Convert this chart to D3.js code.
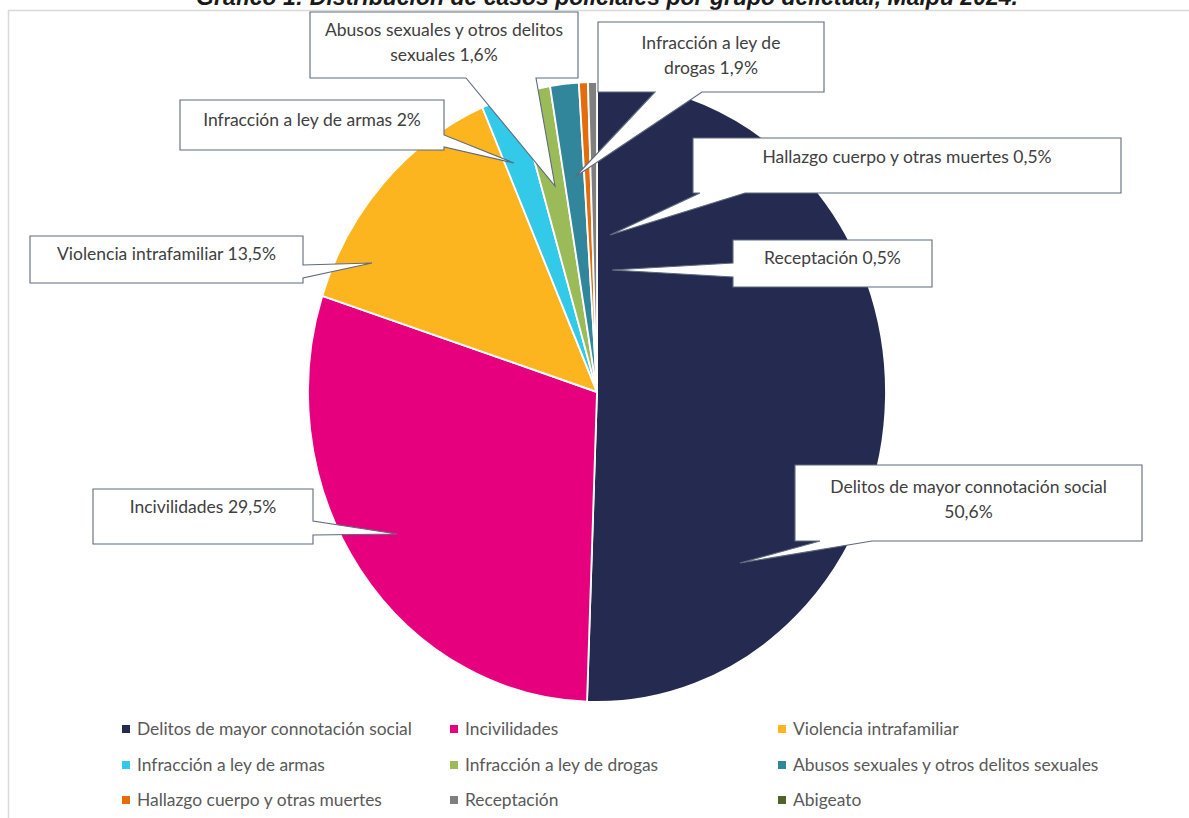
<!DOCTYPE html>
<html>
<head>
<meta charset="utf-8">
<script src="https://cdn.jsdelivr.net/npm/d3@7"></script>
<style>
  html, body { margin: 0; padding: 0; background: #fff; }
  svg { display: block; }
</style>
</head>
<body>
<svg id="chart" width="1189" height="818"></svg>
<script>
// ---------------- data ----------------
const categories = [
  "Delitos de mayor connotación social",
  "Incivilidades",
  "Violencia intrafamiliar",
  "Infracción a ley de armas",
  "Infracción a ley de drogas",
  "Abusos sexuales y otros delitos sexuales",
  "Hallazgo cuerpo y otras muertes",
  "Receptación",
  "Abigeato"
];
const values = [50.6, 29.5, 13.5, 2.0, 1.9, 1.6, 0.5, 0.5, 0.0];
const colors = ["#252B50", "#E6007E", "#FDB51F", "#33C9E9", "#9BBB59", "#31869B", "#E46C0A", "#7F7F7F", "#4F6228"];
const calloutTexts = [
  ["Delitos de mayor connotación social", "50,6%"],
  ["Incivilidades 29,5%"],
  ["Violencia intrafamiliar 13,5%"],
  ["Infracción a ley de armas 2%"],
  ["Infracción a ley de", "drogas 1,9%"],
  ["Abusos sexuales y otros delitos", "sexuales 1,6%"],
  ["Hallazgo cuerpo y otras muertes 0,5%"],
  ["Receptación 0,5%"]
];
const titleText = "Gráfico 1: Distribución de casos policiales por grupo delictual, Maipú 2024.";

// ---------------- layout ----------------
const svg = d3.select("#chart");
const W = 1189, H = 818;
const cx = 597, cy = 392, rx = 289, ry = 310;
const labelFont = "Lato, 'Open Sans', sans-serif";

// title (partly cut off at top, as in the reference)
svg.append("text")
  .attr("x", 607).attr("y", 5)
  .attr("text-anchor", "middle")
  .attr("font-family", "'Liberation Sans', Arial, sans-serif")
  .attr("font-weight", "bold").attr("font-style", "italic")
  .attr("font-size", 23).attr("fill", "#1a1a1a")
  .text(titleText);

// chart border
svg.append("rect")
  .attr("x", 8.5).attr("y", 10.5).attr("width", W + 20).attr("height", H + 20)
  .attr("fill", "none").attr("stroke", "#D9D9D9").attr("stroke-width", 1.5);

// pie
const pie = d3.pie().sort(null).value(d => d).startAngle(0).endAngle(2 * Math.PI);
const arcs = pie(values);
const arc = d3.arc().innerRadius(0).outerRadius(rx);
const pieG = svg.append("g").attr("transform", `translate(${cx},${cy}) scale(1,${ry / rx})`);
pieG.selectAll("path")
  .data(arcs.filter(a => a.value > 0))
  .join("path")
  .attr("d", arc)
  .attr("fill", (d) => colors[d.index])
  .attr("stroke", "#fff")
  .attr("stroke-width", 1.8)
  .attr("stroke-linejoin", "round");

// callouts: box + wedge pointer
const callouts = [
  { i: 0, x: 795, y: 465, w: 347, h: 76, side: "bottom", a1: 820, a2: 872, tx: 740, ty: 563, t0: 22 },
  { i: 1, x: 93,  y: 489, w: 220, h: 55, side: "right",  a1: 521, a2: 535, tx: 397, ty: 534, t0: 18 },
  { i: 2, x: 30,  y: 236, w: 273, h: 47, side: "right",  a1: 265, a2: 278, tx: 372, ty: 263, t0: 18 },
  { i: 3, x: 180, y: 100, w: 264, h: 50, side: "right",  a1: 135, a2: 147, tx: 514, ty: 163, t0: 20 },
  { i: 4, x: 598, y: 22,  w: 226, h: 70, side: "bottom", a1: 655, a2: 702, tx: 575, ty: 177, t0: 21 },
  { i: 5, x: 310, y: 12,  w: 268, h: 66, side: "bottom", a1: 466, a2: 536, tx: 555, ty: 186, t0: 18 },
  { i: 6, x: 693, y: 138, w: 428, h: 55, side: "bottom", a1: 700, a2: 745, tx: 610, ty: 235, t0: 19 },
  { i: 7, x: 733, y: 240, w: 199, h: 47, side: "left",   a1: 263, a2: 277, tx: 612, ty: 270, t0: 18 }
];

function calloutPath(c) {
  const p = d3.path();
  const x0 = c.x, y0 = c.y, x1 = c.x + c.w, y1 = c.y + c.h;
  p.moveTo(x0, y0);
  if (c.side === "top") { p.lineTo(c.a1, y0); p.lineTo(c.tx, c.ty); p.lineTo(c.a2, y0); }
  p.lineTo(x1, y0);
  if (c.side === "right") { p.lineTo(x1, c.a1); p.lineTo(c.tx, c.ty); p.lineTo(x1, c.a2); }
  p.lineTo(x1, y1);
  if (c.side === "bottom") { p.lineTo(c.a2, y1); p.lineTo(c.tx, c.ty); p.lineTo(c.a1, y1); }
  p.lineTo(x0, y1);
  if (c.side === "left") { p.lineTo(x0, c.a2); p.lineTo(c.tx, c.ty); p.lineTo(x0, c.a1); }
  p.closePath();
  return p.toString();
}

const cg = svg.append("g");
callouts.forEach(c => {
  const g = cg.append("g");
  g.append("path")
    .attr("d", calloutPath(c))
    .attr("fill", "#fff")
    .attr("stroke", "#5E6B7D")
    .attr("stroke-width", 1.1)
    .attr("stroke-linejoin", "miter");
  const lines = calloutTexts[c.i];
  lines.forEach((ln, k) => {
    g.append("text")
      .attr("x", c.x + c.w / 2)
      .attr("y", c.y + c.t0 + k * 25)
      .attr("dy", "0.35em")
      .attr("text-anchor", "middle")
      .attr("font-family", labelFont)
      .attr("font-size", 17.5)
      .attr("fill", "#404040")
      .text(ln);
  });
});

// legend
const legCols = [122, 450, 778];
const legRows = [729, 765, 800];
const lg = svg.append("g");
categories.forEach((name, i) => {
  const col = i % 3, row = Math.floor(i / 3);
  const g = lg.append("g").attr("transform", `translate(${legCols[col]},${legRows[row]})`);
  g.append("rect").attr("x", 0).attr("y", -4).attr("width", 8).attr("height", 8).attr("fill", colors[i]);
  g.append("text")
    .attr("x", 15).attr("y", 0).attr("dy", "0.35em")
    .attr("font-family", labelFont)
    .attr("font-size", 17.4)
    .attr("fill", "#595959")
    .text(name);
});
</script>
</body>
</html>
